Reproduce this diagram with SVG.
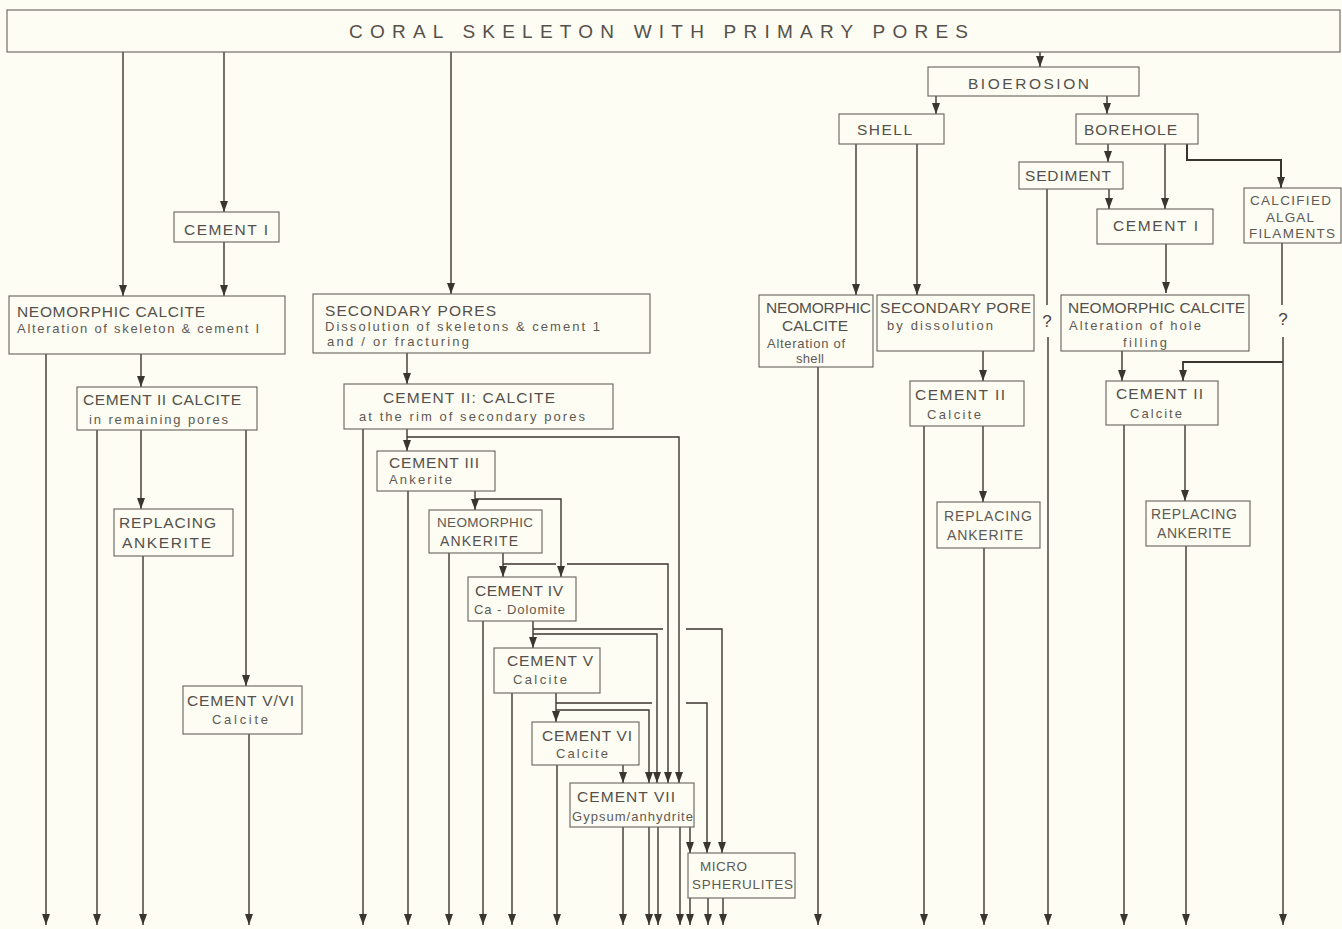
<svg xmlns="http://www.w3.org/2000/svg" width="1342" height="929" viewBox="0 0 1342 929">
<style>
.bg{fill:#fdfdf3}
.box{fill:none;stroke:#67625c;stroke-width:1.1}
.c{fill:none;stroke:#3b3530;stroke-width:1.4;marker-end:url(#ah)}
.cn{fill:none;stroke:#3b3530;stroke-width:1.4}
.t{font-family:"Liberation Sans","DejaVu Sans",sans-serif;fill:#55504b;font-size:15.5px}
.s{font-family:"Liberation Sans","DejaVu Sans",sans-serif;fill:#5e5954;font-size:13px}
.q{font-family:"Liberation Sans","DejaVu Sans",sans-serif;fill:#4a4540;font-size:17px;text-anchor:middle}
.title{font-family:"Liberation Sans","DejaVu Sans",sans-serif;fill:#55504b;font-size:19px}
</style>
<defs>
<marker id="ah" markerUnits="userSpaceOnUse" markerWidth="11" markerHeight="8" refX="11" refY="4" orient="auto" viewBox="0 0 11 8">
<path d="M0,0 L11,4 L0,8 Z" fill="#3b3530"/>
</marker>
</defs>
<rect class="bg" x="0" y="0" width="1342" height="929"/>

<g id="connectors">
<path class="c" d="M123,52 V296"/>
<path class="c" d="M224,52 V212"/>
<path class="c" d="M224,242 V296"/>
<path class="c" d="M46,354 V925"/>
<path class="c" d="M141,354 V387"/>
<path class="c" d="M97,430 V925"/>
<path class="c" d="M141,430 V509"/>
<path class="c" d="M246,430 V686"/>
<path class="c" d="M143,556 V925"/>
<path class="c" d="M249,734 V925"/>

<path class="c" d="M451,52 V294"/>
<path class="c" d="M407,353 V384"/>
<path class="c" d="M363,429 V925"/>
<path class="c" d="M407,429 V451"/>
<path class="c" d="M407,437 H679 V783"/>
<path class="c" d="M408,491 V925"/>
<path class="c" d="M475,491 V510"/>
<path class="c" d="M475,499 H561 V577"/>
<path class="c" d="M449,553 V925"/>
<path class="c" d="M503,553 V577"/>
<path class="c" d="M503,564 H556 M567,564 H668 V783"/>
<path class="c" d="M483,621 V925"/>
<path class="c" d="M533,621 V648"/>
<path class="c" d="M533,629 H663 M686,629 H722 V853"/>
<path class="c" d="M533,634 H657 V783"/>
<path class="c" d="M512,693 V925"/>
<path class="c" d="M556,693 V722"/>
<path class="c" d="M556,703 H652 M686,703 H707 V853"/>
<path class="c" d="M556,710 H649 V783"/>
<path class="c" d="M557,765 V925"/>
<path class="c" d="M623,765 V783"/>
<path class="c" d="M623,827 V925"/>
<path class="c" d="M649,827 V925"/>
<path class="c" d="M658,827 V925"/>
<path class="c" d="M680,827 V925"/>
<path class="c" d="M690,827 V853"/>
<path class="c" d="M690,898 V925"/>
<path class="c" d="M708,898 V925"/>
<path class="c" d="M723,898 V925"/>

<path class="c" d="M1040,52 V67"/>
<path class="c" d="M936,96 V114"/>
<path class="c" d="M1107,96 V114"/>
<path class="c" d="M856,144 V295"/>
<path class="c" d="M917,144 V295"/>
<path class="c" d="M1108,144 V162"/>
<path class="c" d="M1165,144 V209"/>
<path class="c" d="M1187,144 V160 H1281 V188" style="stroke-width:2"/>
<path class="c" d="M1109,189 V209"/>
<path class="cn" d="M1047,189 V305"/>
<path class="c" d="M1048,337 V925"/>
<path class="c" d="M1166,244 V293"/>
<path class="c" d="M818,367 V925"/>
<path class="c" d="M983,351 V381"/>
<path class="c" d="M924,426 V925"/>
<path class="c" d="M983,426 V502"/>
<path class="c" d="M984,548 V925"/>
<path class="c" d="M1122,351 V381"/>
<path class="cn" d="M1282,243 V305"/>
<path class="c" d="M1283,337 V925"/>
<path class="c" d="M1283,362 H1183 V381" style="stroke-width:1.8"/>
<path class="c" d="M1124,425 V925"/>
<path class="c" d="M1185,425 V501"/>
<path class="c" d="M1186,546 V925"/>
</g>

<g id="coral">
<rect class="box" x="7" y="10" width="1333" height="42"/>
<text class="title" x="349" y="38" textLength="619" lengthAdjust="spacing">CORAL   SKELETON   WITH   PRIMARY   PORES</text>
</g>

<g id="cement1-left">
<rect class="box" x="174" y="212" width="105" height="30"/>
<text class="t" x="184" y="235" textLength="84" lengthAdjust="spacing">CEMENT I</text>
</g>

<g id="neo-calcite-left">
<rect class="box" x="9" y="296" width="276" height="58"/>
<text class="t" x="17" y="317" textLength="188" lengthAdjust="spacing">NEOMORPHIC  CALCITE</text>
<text class="s" x="17" y="333" textLength="242" lengthAdjust="spacing">Alteration  of  skeleton &amp; cement  I</text>
</g>

<g id="cement2-left">
<rect class="box" x="77" y="387" width="180" height="43"/>
<text class="t" x="83" y="405" textLength="158" lengthAdjust="spacing">CEMENT II CALCITE</text>
<text class="s" x="89" y="424" textLength="139" lengthAdjust="spacing">in remaining  pores</text>
</g>

<g id="replacing-left">
<rect class="box" x="114" y="509" width="119" height="47"/>
<text class="t" x="119" y="528" textLength="97" lengthAdjust="spacing">REPLACING</text>
<text class="t" x="122" y="548" textLength="89" lengthAdjust="spacing">ANKERITE</text>
</g>

<g id="cement56-left">
<rect class="box" x="183" y="686" width="119" height="48"/>
<text class="t" x="187" y="706" textLength="107" lengthAdjust="spacing">CEMENT V/VI</text>
<text class="s" x="212" y="724" textLength="56" lengthAdjust="spacing">Calcite</text>
</g>

<g id="secondary-pores">
<rect class="box" x="313" y="294" width="337" height="59"/>
<text class="t" x="325" y="316" textLength="171" lengthAdjust="spacing">SECONDARY  PORES</text>
<text class="s" x="325" y="331" textLength="275" lengthAdjust="spacing">Dissolution  of  skeletons  &amp;  cement  1</text>
<text class="s" x="327" y="346" textLength="142" lengthAdjust="spacing">and / or  fracturing</text>
</g>

<g id="cement2-mid">
<rect class="box" x="344" y="384" width="269" height="45"/>
<text class="t" x="383" y="403" textLength="172" lengthAdjust="spacing">CEMENT II: CALCITE</text>
<text class="s" x="359" y="421" textLength="226" lengthAdjust="spacing">at  the  rim  of  secondary  pores</text>
</g>

<g id="cement3">
<rect class="box" x="377" y="451" width="118" height="40"/>
<text class="t" x="389" y="468" textLength="90" lengthAdjust="spacing">CEMENT III</text>
<text class="s" x="389" y="484" textLength="63" lengthAdjust="spacing">Ankerite</text>
</g>

<g id="neo-ankerite">
<rect class="box" x="429" y="510" width="113" height="43"/>
<text class="s" x="437" y="527" textLength="96" lengthAdjust="spacing" style="font-size:13.5px">NEOMORPHIC</text>
<text class="t" x="440" y="546" textLength="78" lengthAdjust="spacing" style="font-size:14px">ANKERITE</text>
</g>

<g id="cement4">
<rect class="box" x="468" y="577" width="108" height="44"/>
<text class="t" x="475" y="596" textLength="88" lengthAdjust="spacing">CEMENT IV</text>
<text class="s" x="474" y="614" textLength="91" lengthAdjust="spacing">Ca - Dolomite</text>
</g>

<g id="cement5">
<rect class="box" x="494" y="648" width="106" height="45"/>
<text class="t" x="507" y="666" textLength="86" lengthAdjust="spacing">CEMENT V</text>
<text class="s" x="513" y="684" textLength="54" lengthAdjust="spacing">Calcite</text>
</g>

<g id="cement6">
<rect class="box" x="532" y="722" width="107" height="43"/>
<text class="t" x="542" y="741" textLength="90" lengthAdjust="spacing">CEMENT VI</text>
<text class="s" x="556" y="758" textLength="52" lengthAdjust="spacing">Calcite</text>
</g>

<g id="cement7">
<rect class="box" x="570" y="783" width="124" height="44"/>
<text class="t" x="577" y="802" textLength="98" lengthAdjust="spacing">CEMENT VII</text>
<text class="s" x="572" y="821" textLength="121" lengthAdjust="spacing">Gypsum/anhydrite</text>
</g>

<g id="micro-spherulites">
<rect class="box" x="688" y="853" width="107" height="45"/>
<text class="s" x="700" y="871" textLength="47" lengthAdjust="spacing" style="font-size:13.5px">MICRO</text>
<text class="s" x="692" y="889" textLength="101" lengthAdjust="spacing" style="font-size:13.5px">SPHERULITES</text>
</g>

<g id="bioerosion">
<rect class="box" x="928" y="67" width="211" height="29"/>
<text class="t" x="968" y="89" textLength="121" lengthAdjust="spacing">BIOEROSION</text>
</g>

<g id="shell">
<rect class="box" x="839" y="114" width="105" height="30"/>
<text class="t" x="857" y="135" textLength="55" lengthAdjust="spacing">SHELL</text>
</g>

<g id="borehole">
<rect class="box" x="1076" y="114" width="122" height="30"/>
<text class="t" x="1084" y="135" textLength="93" lengthAdjust="spacing">BOREHOLE</text>
</g>

<g id="sediment">
<rect class="box" x="1019" y="162" width="104" height="27"/>
<text class="t" x="1025" y="181" textLength="86" lengthAdjust="spacing">SEDIMENT</text>
</g>

<g id="cement1-right">
<rect class="box" x="1097" y="209" width="116" height="35"/>
<text class="t" x="1113" y="231" textLength="85" lengthAdjust="spacing">CEMENT I</text>
</g>

<g id="calcified-algal">
<rect class="box" x="1244" y="188" width="97" height="55"/>
<text class="s" x="1250" y="205" textLength="81" lengthAdjust="spacing" style="font-size:13.5px">CALCIFIED</text>
<text class="s" x="1266" y="222" textLength="48" lengthAdjust="spacing" style="font-size:13.5px">ALGAL</text>
<text class="s" x="1249" y="238" textLength="86" lengthAdjust="spacing" style="font-size:13.5px">FILAMENTS</text>
</g>

<g id="neo-calcite-shell">
<rect class="box" x="759" y="295" width="114" height="72"/>
<text class="t" x="766" y="313" textLength="105" lengthAdjust="spacing">NEOMORPHIC</text>
<text class="t" x="782" y="331" textLength="66" lengthAdjust="spacing">CALCITE</text>
<text class="s" x="767" y="348" textLength="78" lengthAdjust="spacing">Alteration  of</text>
<text class="s" x="796" y="363" textLength="28" lengthAdjust="spacing">shell</text>
</g>

<g id="secondary-pore-shell">
<rect class="box" x="877" y="295" width="157" height="56"/>
<text class="t" x="880" y="313" textLength="151" lengthAdjust="spacing">SECONDARY  PORE</text>
<text class="s" x="887" y="330" textLength="106" lengthAdjust="spacing">by  dissolution</text>
</g>

<g id="q-sediment"><text class="q" x="1047" y="327">?</text></g>

<g id="neo-calcite-hole">
<rect class="box" x="1061" y="295" width="188" height="56"/>
<text class="t" x="1068" y="313" textLength="177" lengthAdjust="spacing">NEOMORPHIC CALCITE</text>
<text class="s" x="1069" y="330" textLength="132" lengthAdjust="spacing">Alteration  of  hole</text>
<text class="s" x="1123" y="347" textLength="44" lengthAdjust="spacing">filling</text>
</g>

<g id="q-algal"><text class="q" x="1283" y="325">?</text></g>

<g id="cement2-shell">
<rect class="box" x="910" y="381" width="114" height="45"/>
<text class="t" x="915" y="400" textLength="90" lengthAdjust="spacing">CEMENT  II</text>
<text class="s" x="927" y="419" textLength="54" lengthAdjust="spacing">Calcite</text>
</g>

<g id="cement2-hole">
<rect class="box" x="1106" y="381" width="112" height="44"/>
<text class="t" x="1116" y="399" textLength="87" lengthAdjust="spacing">CEMENT II</text>
<text class="s" x="1130" y="418" textLength="52" lengthAdjust="spacing">Calcite</text>
</g>

<g id="replacing-shell">
<rect class="box" x="937" y="502" width="103" height="46"/>
<text class="s" x="944" y="521" textLength="88" lengthAdjust="spacing" style="font-size:14px">REPLACING</text>
<text class="s" x="947" y="540" textLength="76" lengthAdjust="spacing" style="font-size:14px">ANKERITE</text>
</g>

<g id="replacing-hole">
<rect class="box" x="1146" y="501" width="104" height="45"/>
<text class="s" x="1151" y="519" textLength="86" lengthAdjust="spacing" style="font-size:14px">REPLACING</text>
<text class="s" x="1157" y="538" textLength="74" lengthAdjust="spacing" style="font-size:14px">ANKERITE</text>
</g>
</svg>
